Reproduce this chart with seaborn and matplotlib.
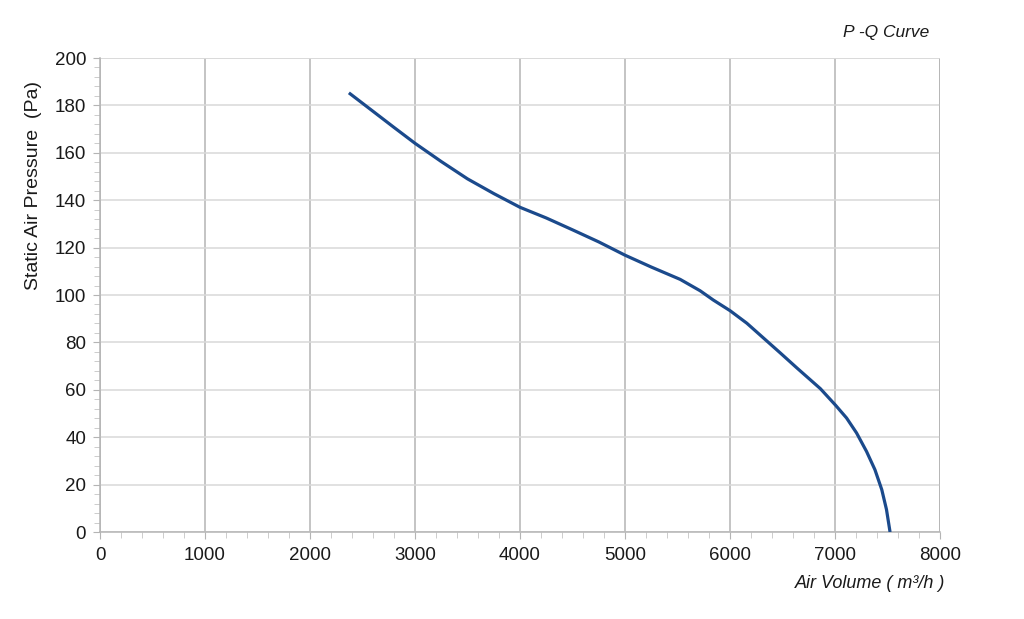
import numpy as np
import pandas as pd
import matplotlib
matplotlib.use("Agg")
import matplotlib.pyplot as plt
import seaborn as sns
from matplotlib.ticker import MultipleLocator

# P-Q curve
air_volume = [2370, 2600, 2800, 3000, 3250, 3500, 3750, 4000, 4250, 4500,
              4750, 5000, 5250, 5525, 5715, 5840, 6000, 6160, 6320, 6480,
              6640, 6860, 7005, 7110, 7205, 7300, 7380, 7445, 7490, 7524]
pressure = [185.3, 177.5, 170.7, 164.0, 156.3, 149.0, 142.8, 137.0, 132.5, 127.5,
            122.4, 116.8, 111.8, 106.6, 101.8, 97.9, 93.4, 88.1, 81.8, 75.5,
            69.1, 60.5, 53.5, 48.1, 41.8, 34.0, 26.3, 17.9, 9.5, 0.0]

df = pd.DataFrame({"Q": air_volume, "P": pressure})

sns.set_style("white")
plt.rcParams["font.family"] = ["Liberation Sans", "DejaVu Sans"]

fig = plt.figure(figsize=(10.24, 6.19), dpi=100)
ax = fig.add_axes([0.0977, 0.1405, 0.8203, 0.7658])

sns.lineplot(data=df, x="Q", y="P", ax=ax, sort=False, color="#1b4a8c",
             linewidth=2.3, zorder=3, solid_joinstyle="round",
             solid_capstyle="butt")

ax.set_xlim(0, 8000)
ax.set_ylim(0, 200)
ax.xaxis.set_major_locator(MultipleLocator(1000))
ax.xaxis.set_minor_locator(MultipleLocator(200))
ax.yaxis.set_major_locator(MultipleLocator(20))
ax.yaxis.set_minor_locator(MultipleLocator(4))

ax.grid(axis="x", which="major", color="#b4b4b4", linewidth=1.1)
ax.grid(axis="y", which="major", color="#d9d9d9", linewidth=1.1)
ax.set_axisbelow(True)

for side in ["top", "right"]:
    ax.spines[side].set_visible(False)
for side in ["left", "bottom"]:
    ax.spines[side].set_color("#b4b4b4")
    ax.spines[side].set_linewidth(1.1)
ax.axvline(8000, color="#b4b4b4", linewidth=1.1, zorder=1)
ax.axhline(200, color="#d9d9d9", linewidth=1.1, zorder=1)

ax.tick_params(axis="both", which="major", direction="out", length=5,
               color="#b4b4b4", labelsize=13.5, labelcolor="#1a1a1a")
ax.tick_params(axis="both", which="minor", direction="out", length=4,
               color="#c4c4c4")
ax.tick_params(axis="x", which="both", bottom=True, pad=6)
ax.tick_params(axis="y", which="both", left=True, pad=5)

ax.set_xlabel("")
ax.set_ylabel("")

fig.text(0.033, 0.70, "Static Air Pressure  (Pa)", fontsize=14, rotation=90,
         color="#1a1a1a", ha="center", va="center")
fig.text(0.85, 0.057, "Air Volume ( m³/h )", fontsize=13, style="italic",
         color="#1a1a1a", ha="center", va="center")
fig.text(0.865, 0.948, "P -Q Curve", fontsize=12.5, style="italic",
         color="#1a1a1a", ha="center", va="center")

fig.savefig("out.png", dpi=100, facecolor="white")
